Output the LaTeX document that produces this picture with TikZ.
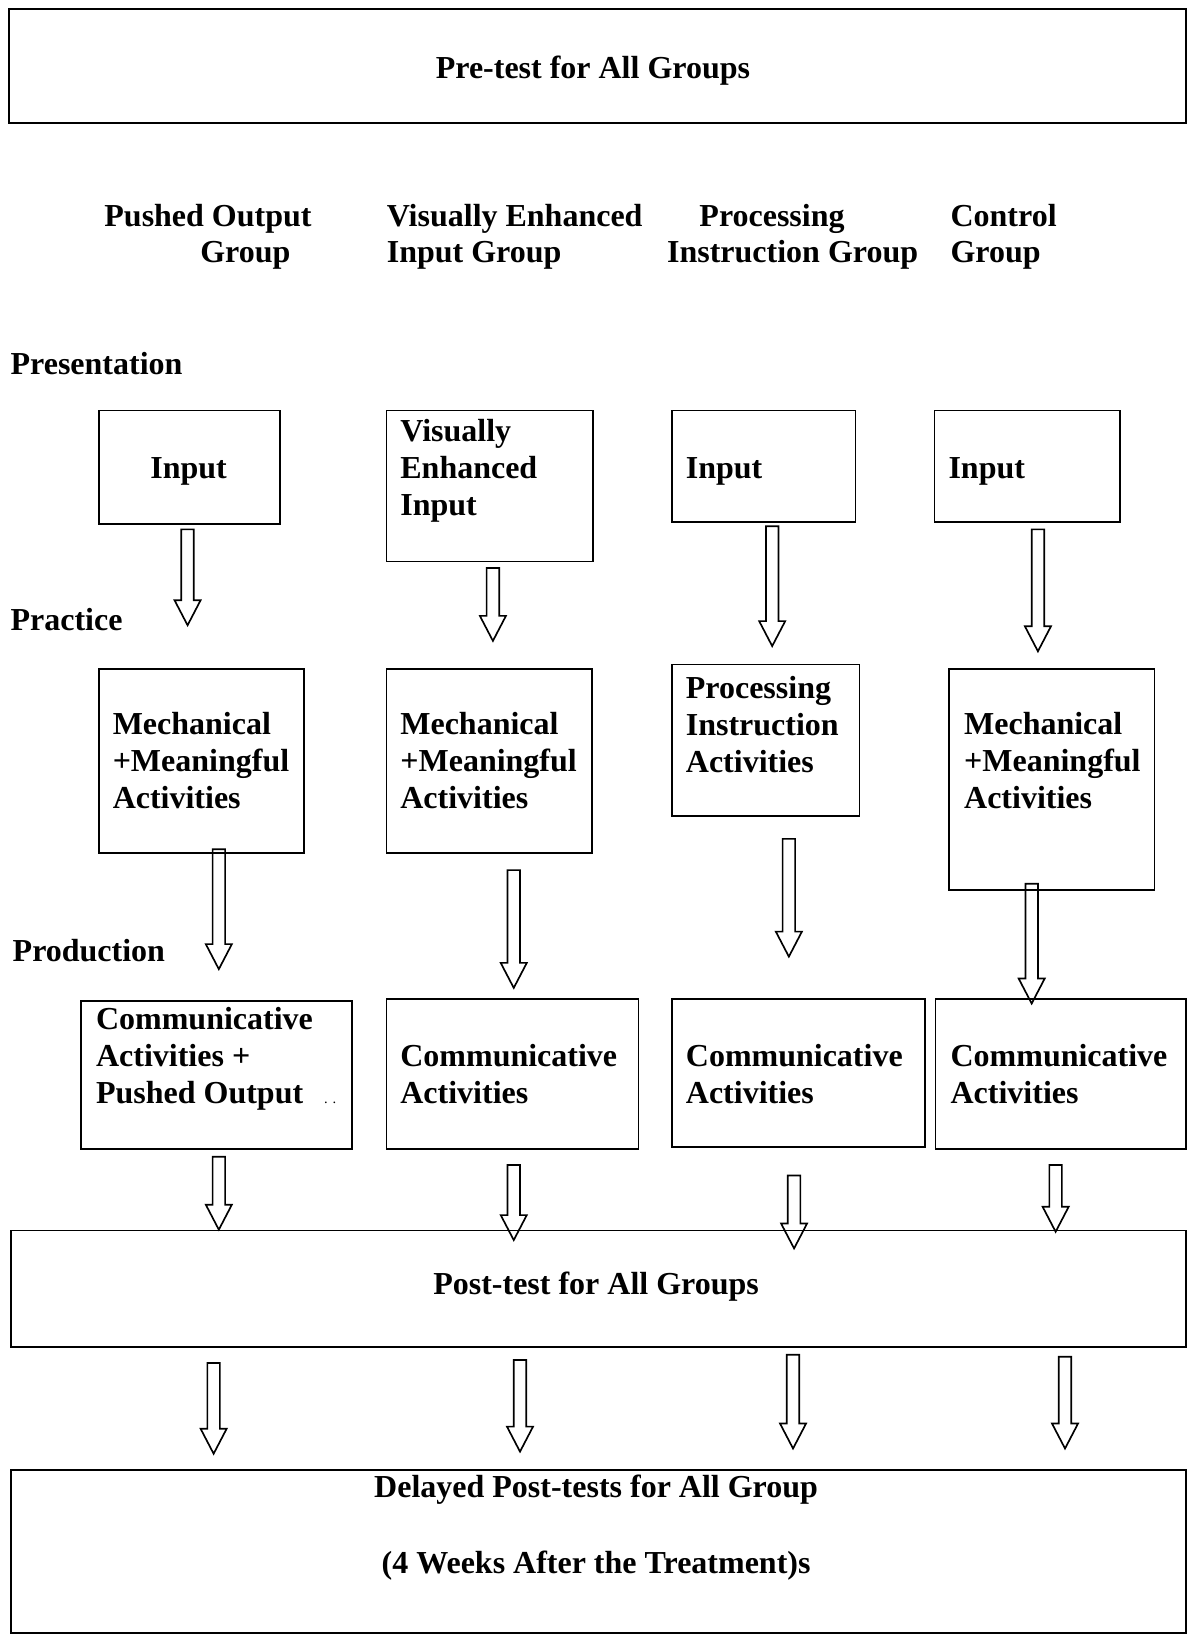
\documentclass[tikz,border=0pt]{standalone}
\usepackage{fontspec}
\setmainfont{Liberation Serif}
\usetikzlibrary{calc}

% hollow block arrow from top coordinate to tip coordinate
\newcommand{\blockarrow}[2]{%
  \draw[arrowline] ($(#1)+(-6,0)$) -- ($(#2)+(-6,-24)$) -- ($(#2)+(-12.5,-24)$) -- (#2)
    -- ($(#2)+(12.5,-24)$) -- ($(#2)+(6,-24)$) -- ($(#1)+(6,0)$) -- cycle;}

\begin{document}
\begin{tikzpicture}[x=1pt, y=-1pt,
    every node/.style={font=\fontsize{30.7}{35.5}\selectfont\bfseries},
    box/.style={draw, line width=1.6pt, anchor=north west, inner sep=0pt},
    txt/.style={anchor=base west, inner sep=0pt, align=left},
    ctxt/.style={anchor=base, inner sep=0pt},
    arrowline/.style={line width=1.6pt, line join=miter}]
    \useasboundingbox (0,0) rectangle (1144,1568);

    % Tests
    \node[box, minimum width=1129, minimum height=109] (pre) at (8,8) {};
    \node[ctxt] (preT) at (569,75) {Pre-test for All Groups};

    % Group headings
    \node[txt] (po1) at (100,217) {Pushed Output};
    \node[txt] (po2) at (192,252) {Group};
    \node[txt] (ve1) at (371,217) {Visually Enhanced};
    \node[txt] (ve2) at (371,252) {Input Group};
    \node[txt] (pi1) at (671,217) {Processing};
    \node[txt] (pi2) at (640,252) {Instruction Group};
    \node[txt] (cg1) at (912,217) {Control};
    \node[txt] (cg2) at (912,252) {Group};

    % Stages
    \node[txt] (presL) at (10,359) {Presentation};
    \node[txt] (pracL) at (10,605) {Practice};
    \node[txt] (prodL) at (12,923) {Production};

    % Presentation (multi-line texts sit on their last baseline)
    \node[box, minimum width=174, minimum height=109] (inA) at (94,393) {};
    \node[ctxt] (inAt) at (181,459) {Input};
    \node[box, minimum width=198, minimum height=145] (inB) at (370,393) {};
    \node[txt] (inBt) at (384,495) {Visually\\Enhanced\\Input};
    \node[box, minimum width=176, minimum height=107] (inC) at (644,393) {};
    \node[txt] (inCt) at (658,459) {Input};
    \node[box, minimum width=178, minimum height=107] (inD) at (896,393) {};
    \node[txt] (inDt) at (910,459) {Input};

    % Practice
    \node[box, minimum width=197, minimum height=177] (prA) at (94,641) {};
    \node[txt] (prAt) at (108,776) {Mechanical\\+Meaningful\\Activities};
    \node[box, minimum width=197, minimum height=177] (prB) at (370,641) {};
    \node[txt] (prBt) at (384,776) {Mechanical\\+Meaningful\\Activities};
    \node[box, minimum width=180, minimum height=145] (prC) at (644,637) {};
    \node[txt] (prCt) at (658,741) {Processing\\Instruction\\Activities};
    \node[box, minimum width=197, minimum height=212] (prD) at (910,641) {};
    \node[txt] (prDt) at (925,776) {Mechanical\\+Meaningful\\Activities};

    % Production
    \node[box, minimum width=260, minimum height=142] (cmA) at (77,960) {};
    \node[txt] (cmAt) at (92,1059) {Communicative\\Activities +\\Pushed Output\hspace{20pt}{\mdseries\fontsize{14}{16}\selectfont. .}};
    \node[box, minimum width=242, minimum height=144] (cmB) at (370,958) {};
    \node[txt] (cmBt) at (384,1059) {Communicative\\Activities};
    \node[box, minimum width=243, minimum height=142] (cmC) at (644,958) {};
    \node[txt] (cmCt) at (658,1059) {Communicative\\Activities};
    \node[box, minimum width=240, minimum height=144] (cmD) at (897,958) {};
    \node[txt] (cmDt) at (912,1059) {Communicative\\Activities};

    \node[box, minimum width=1127, minimum height=112] (post) at (10,1180) {};
    \node[ctxt] (postT) at (572,1242) {Post-test for All Groups};

    \node[box, minimum width=1127, minimum height=156] (del) at (10,1410) {};
    \node[ctxt] (delT1) at (572,1437) {Delayed Post-tests for All Group};
    \node[ctxt] (delT2) at (572,1510) {(4 Weeks After the Treatment)s};

    % Arrow ends
    \coordinate (t1A) at (180,508);  \coordinate (b1A) at (180,600);
    \coordinate (t1B) at (473,545);  \coordinate (b1B) at (473,615);
    \coordinate (t1C) at (741,505);  \coordinate (b1C) at (741,620);
    \coordinate (t1D) at (996,508);  \coordinate (b1D) at (996,625);
    \coordinate (t2A) at (210,815);  \coordinate (b2A) at (210,930);
    \coordinate (t2B) at (493,835);  \coordinate (b2B) at (493,948);
    \coordinate (t2C) at (757,805);  \coordinate (b2C) at (757,918);
    \coordinate (t2D) at (990,848);  \coordinate (b2D) at (990,963);
    \coordinate (t3A) at (210,1110); \coordinate (b3A) at (210,1180);
    \coordinate (t3B) at (493,1118); \coordinate (b3B) at (493,1190);
    \coordinate (t3C) at (762,1128); \coordinate (b3C) at (762,1198);
    \coordinate (t3D) at (1013,1118); \coordinate (b3D) at (1013,1182);
    \coordinate (t4A) at (205,1308); \coordinate (b4A) at (205,1395);
    \coordinate (t4B) at (499,1305); \coordinate (b4B) at (499,1393);
    \coordinate (t4C) at (761,1300); \coordinate (b4C) at (761,1390);
    \coordinate (t4D) at (1022,1302); \coordinate (b4D) at (1022,1390);

    % Arrows
    \blockarrow{t1A}{b1A} \blockarrow{t1B}{b1B} \blockarrow{t1C}{b1C} \blockarrow{t1D}{b1D}
    \blockarrow{t2A}{b2A} \blockarrow{t2B}{b2B} \blockarrow{t2C}{b2C} \blockarrow{t2D}{b2D}
    \blockarrow{t3A}{b3A} \blockarrow{t3B}{b3B} \blockarrow{t3C}{b3C} \blockarrow{t3D}{b3D}
    \blockarrow{t4A}{b4A} \blockarrow{t4B}{b4B} \blockarrow{t4C}{b4C} \blockarrow{t4D}{b4D}

\end{tikzpicture}
\end{document}
